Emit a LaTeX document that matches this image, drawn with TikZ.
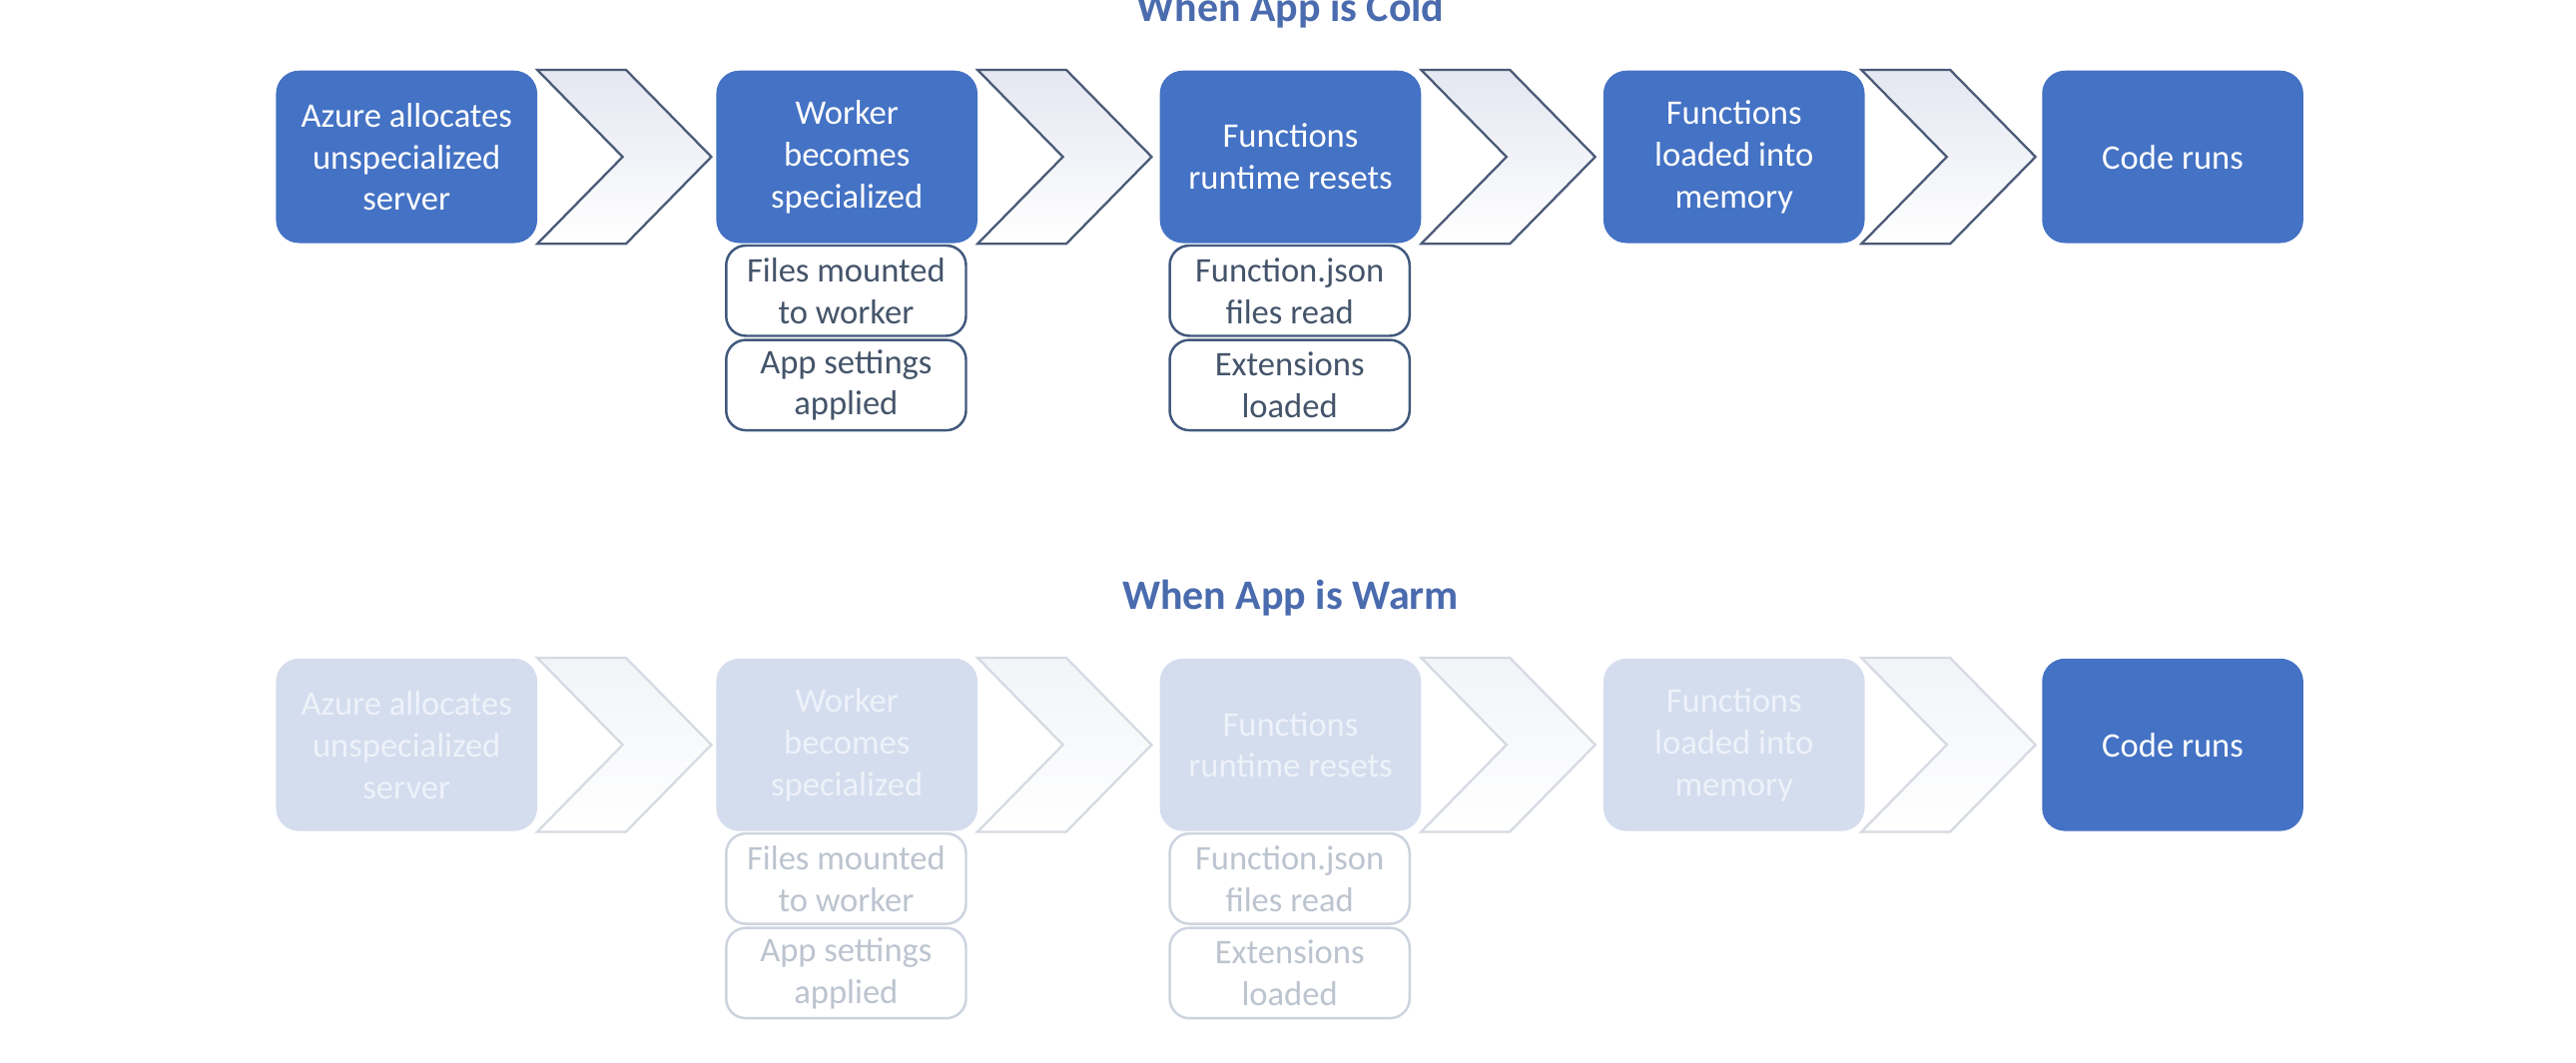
\documentclass[tikz,border=0pt]{standalone}
\usepackage{fontspec}
\setmainfont{Carlito}
\definecolor{mainblue}{HTML}{4472C4}
\definecolor{titleblue}{HTML}{4A6BAE}
\definecolor{subline}{HTML}{41597D}
\definecolor{subtext}{HTML}{44546A}
\definecolor{chevline}{HTML}{4B5B78}
\definecolor{chevtop}{HTML}{E4E7F1}
\definecolor{fadefill}{HTML}{D4DDEE}
\definecolor{fadetext}{HTML}{EEF2F9}
\definecolor{fadechev}{HTML}{D6DAE2}
\definecolor{fadechevtop}{HTML}{F2F4F8}
\definecolor{fadesubline}{HTML}{CDD4DF}
\definecolor{fadesubtext}{HTML}{BCC4CF}
\begin{document}
\begin{tikzpicture}[x=1pt,y=-1pt,
  txt/.style={font=\fontsize{21}{25.5}\selectfont, align=center},
  mainbox/.style={txt, rounded corners=14pt, minimum width=159pt, minimum height=105pt, inner sep=0pt, fill=mainblue, text=white},
  fadebox/.style={mainbox, fill=fadefill, text=fadetext},
  subbox/.style={txt, rounded corners=12pt, minimum width=146pt, minimum height=55pt, inner sep=0pt, draw=subline, line width=1.5pt, fill=white, text=subtext},
  fadesub/.style={subbox, draw=fadesubline, text=fadesubtext},
  titletext/.style={font=\fontsize{25.5}{30}\selectfont\bfseries, text=titleblue},
  pics/chevcold/.style={code={\draw[draw=chevline, line width=1.4pt, line join=miter, top color=chevtop, middle color=white, bottom color=white]
      (0,-53)--(54,-53)--(106,0)--(54,53)--(0,53)--(52,0)--cycle;}},
  pics/chevwarm/.style={code={\draw[draw=fadechev, line width=1.4pt, line join=miter, top color=fadechevtop, middle color=white, bottom color=white]
      (0,-53)--(54,-53)--(106,0)--(54,53)--(0,53)--(52,0)--cycle;}}
]
\useasboundingbox[fill=white] (0,0) rectangle (1568,647);

% ---------- Cold ----------
\node[titletext] (tcold) at (785.5,6) {When App is Cold};

\pic (cc1) at (327,95.5) {chevcold};
\pic (cc2) at (595,95.5) {chevcold};
\pic (cc3) at (865,95.5) {chevcold};
\pic (cc4) at (1133,95.5) {chevcold};

\node[mainbox] (c1) at (247.5,95.5) {Azure allocates\\unspecialized\\server};
\node[mainbox] (c2) at (515.5,95.5) {Worker\\becomes\\specialized};
\node[mainbox] (c3) at (785.5,95.5) {Functions\\runtime resets};
\node[mainbox] (c4) at (1055.5,95.5) {Functions\\loaded into\\memory};
\node[mainbox] (c5) at (1322.5,95.5) {Code runs};

\node[subbox] (cs1) at (515,177) {Files mounted\\to worker};
\node[subbox] (cs2) at (515,234.5) {App settings\\applied};
\node[subbox] (cs3) at (785,177) {Function.json\\files read};
\node[subbox] (cs4) at (785,234.5) {Extensions\\loaded};

% ---------- Warm ----------
\node[titletext] (twarm) at (785.5,364) {When App is Warm};

\pic (wc1) at (327,453.5) {chevwarm};
\pic (wc2) at (595,453.5) {chevwarm};
\pic (wc3) at (865,453.5) {chevwarm};
\pic (wc4) at (1133,453.5) {chevwarm};

\node[fadebox] (w1) at (247.5,453.5) {Azure allocates\\unspecialized\\server};
\node[fadebox] (w2) at (515.5,453.5) {Worker\\becomes\\specialized};
\node[fadebox] (w3) at (785.5,453.5) {Functions\\runtime resets};
\node[fadebox] (w4) at (1055.5,453.5) {Functions\\loaded into\\memory};
\node[mainbox] (w5) at (1322.5,453.5) {Code runs};

\node[fadesub] (ws1) at (515,535) {Files mounted\\to worker};
\node[fadesub] (ws2) at (515,592.5) {App settings\\applied};
\node[fadesub] (ws3) at (785,535) {Function.json\\files read};
\node[fadesub] (ws4) at (785,592.5) {Extensions\\loaded};
\end{tikzpicture}
\end{document}
